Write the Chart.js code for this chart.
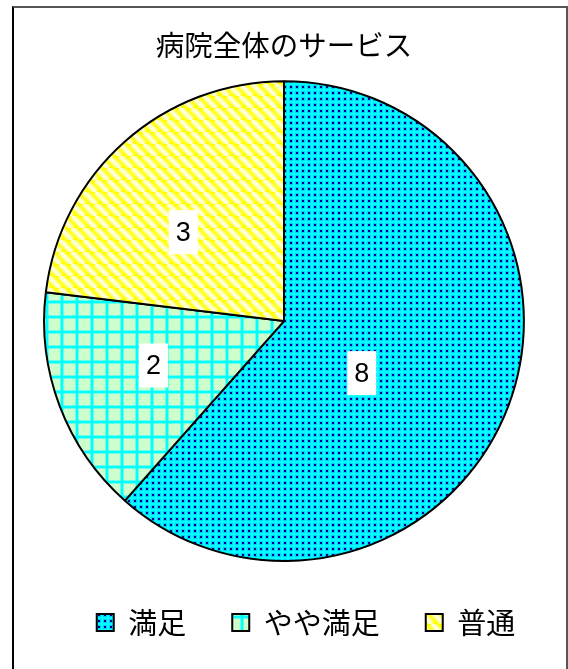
<!DOCTYPE html>
<html>
<head>
<meta charset="utf-8">
<script src="https://cdn.jsdelivr.net/npm/chart.js@4.4.0/dist/chart.umd.min.js"></script>
<style>
html, body { margin: 0; padding: 0; background: #fff; overflow: hidden; }
#frame { position: absolute; left: 12px; top: 6px; width: 552px; height: 700px;
  border-left: 2px solid #000; border-top: 2px solid #555; border-right: 2px solid #555; }
#wrap { position: absolute; left: 0; top: 0; width: 568px; height: 669px; }
</style>
</head>
<body>
<div id="frame"></div>
<div id="wrap"><canvas id="myChart"></canvas></div>
<script>
var chartTitle = "病院全体のサービス";
var categories = ["満足", "やや満足", "普通"];
var counts = [8, 2, 3];

// where each value label sits: fraction of the radius, and a turn in degrees off the slice middle
var labelRadius = [0.39, 0.575, 0.56];
var labelTurn = [13, 2, -7];

var jpFont = "'Noto Sans CJK JP', 'Noto Sans', sans-serif";

var canvas = document.getElementById("myChart");
var ctx = canvas.getContext("2d");

function makePattern(size, draw) {
    var tile = document.createElement("canvas");
    tile.width = size;
    tile.height = size;
    draw(tile.getContext("2d"), size);
    return ctx.createPattern(tile, "repeat");
}

// cyan with small navy dots
var dots = makePattern(6, function (g, s) {
    g.fillStyle = "#00ffff";
    g.fillRect(0, 0, s, s);
    g.fillStyle = "rgba(0,60,230,0.25)";
    g.fillRect(1, 1, 4, 4);
    g.fillStyle = "#000090";
    g.fillRect(2, 2, 2, 2);
});

// pale green with cyan grid
var grid = makePattern(15, function (g, s) {
    g.fillStyle = "#ccffcc";
    g.fillRect(0, 0, s, s);
    g.fillStyle = "rgba(0,255,255,0.45)";
    g.fillRect(0, 0, s, 4);
    g.fillRect(0, 0, 4, s);
    g.fillStyle = "#00ffff";
    g.fillRect(0, 1, s, 2);
    g.fillRect(1, 0, 2, s);
});

// yellow with broad pale diagonal stripes running down to the right
var stripes = makePattern(12, function (g, s) {
    g.fillStyle = "#ffff00";
    g.fillRect(0, 0, s, s);
    [-s, 0, s].forEach(function (x0) {
        g.strokeStyle = "rgba(255,255,200,0.5)";
        g.lineWidth = 7;
        g.beginPath(); g.moveTo(x0, 0); g.lineTo(x0 + s, s); g.stroke();
        g.strokeStyle = "#ffffd8";
        g.lineWidth = 3.5;
        g.beginPath(); g.moveTo(x0, 0); g.lineTo(x0 + s, s); g.stroke();
    });
});

var sliceLabels = {
    id: "sliceLabels",
    afterDatasetsDraw: function (chart) {
        var c = chart.ctx;
        var meta = chart.getDatasetMeta(0);
        c.save();
        c.font = "27px 'Liberation Sans', Arial, sans-serif";
        c.textAlign = "center";
        c.textBaseline = "middle";
        meta.data.forEach(function (arc, i) {
            var p = arc.getProps(["x", "y", "startAngle", "endAngle", "outerRadius"], true);
            var a = (p.startAngle + p.endAngle) / 2 + labelTurn[i] * Math.PI / 180;
            var r = p.outerRadius * labelRadius[i];
            var x = p.x + Math.cos(a) * r;
            var y = p.y + Math.sin(a) * r;
            var text = String(counts[i]);
            var w = c.measureText(text).width + 14;
            c.fillStyle = "#fff";
            c.fillRect(x - w / 2, y - 22, w, 44);
            c.fillStyle = "#000";
            c.fillText(text, x, y + 1);
        });
        c.restore();
    }
};

// the legend row sits a little right of centre in the original
var legendShift = {
    id: "legendShift",
    afterLayout: function (chart) {
        chart.legend.left += 22;
        chart.legend.right += 22;
    }
};

var myChart = new Chart(canvas, {
    type: "pie",
    data: {
        labels: categories,
        datasets: [
            {
                data: counts,
                backgroundColor: [dots, grid, stripes],
                borderColor: "#000",
                borderWidth: 2,
                hoverOffset: 0,
            },
        ],
    },
    options: {
        responsive: true,
        maintainAspectRatio: false,
        animation: false,
        events: [],
        layout: { padding: { bottom: 22 } },
        plugins: {
            title: {
                display: true,
                text: chartTitle,
                color: "#000",
                font: { family: jpFont, size: 28.5, weight: "normal" },
                padding: { top: 28, bottom: 18 },
            },
            legend: {
                position: "bottom",
                maxHeight: 113,
                labels: {
                    color: "#000",
                    font: { family: jpFont, size: 29 },
                    boxWidth: 17,
                    boxHeight: 17,
                    padding: 46,
                },
            },
            tooltip: { enabled: false },
        },
    },
    plugins: [sliceLabels, legendShift],
});
</script>
</body>
</html>
